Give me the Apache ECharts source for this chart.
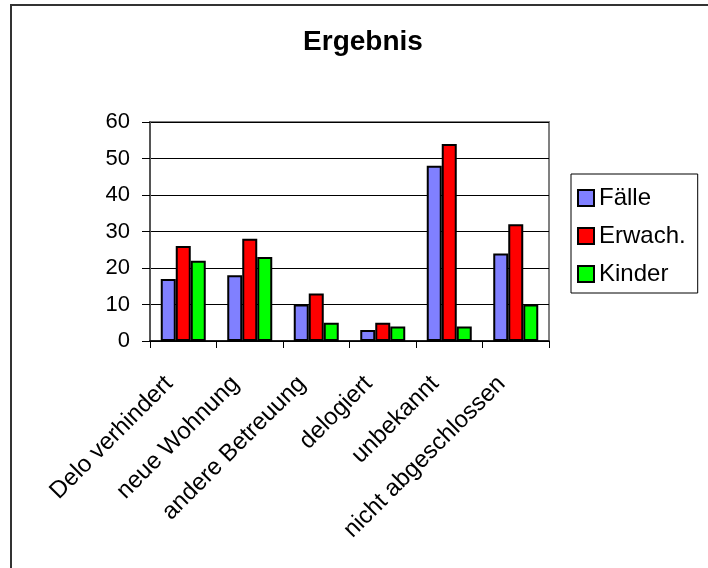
<!DOCTYPE html>
<html>
<head>
<meta charset="utf-8">
<script src="https://cdn.jsdelivr.net/npm/echarts@6/dist/echarts.min.js"></script>
<style>
  html, body { margin: 0; padding: 0; background: #fff; }
  #chart { width: 708px; height: 568px; }
</style>
</head>
<body>
<div id="chart"></div>
<script>
// Outcome categories and counts per group
const categories = ['Delo verhindert', 'neue Wohnung', 'andere Betreuung', 'delogiert', 'unbekannt', 'nicht abgeschlossen'];
const faelle = [17, 18, 10, 3, 48, 24];
const erwachsene = [26, 28, 13, 5, 54, 32];
const kinder = [22, 23, 5, 4, 4, 10];
const seriesNames = ['Fälle', 'Erwach.', 'Kinder'];
const yTicks = { min: 0, max: 60, interval: 10 };

const FONT = '"Liberation Sans", Arial, sans-serif';
const chart = echarts.init(document.getElementById('chart'), null, { renderer: 'canvas' });

function barSeries(name, data, color) {
  return {
    name: name,
    type: 'bar',
    data: data,
    barWidth: 15,
    barGap: '0%',
    itemStyle: { color: color, borderColor: '#000', borderWidth: 2 },
    animation: false
  };
}

chart.setOption({
  animation: false,
  backgroundColor: '#fff',
  textStyle: { fontFamily: FONT },
  title: {
    text: 'Ergebnis',
    left: 358,
    top: 23,
    textAlign: 'center',
    textStyle: { fontFamily: FONT, fontSize: 28, fontWeight: 'bold', color: '#000' }
  },
  graphic: [{
    type: 'rect',
    shape: { x: 11, y: 5, width: 720, height: 590 },
    style: { fill: 'none', stroke: '#333', lineWidth: 2 },
    silent: true,
    z: 100
  }],
  legend: {
    orient: 'vertical',
    left: 571,
    top: 174,
    padding: [12, 12, 7, 6],
    itemWidth: 16,
    itemHeight: 16,
    itemGap: 14,
    borderColor: '#000',
    borderWidth: 1,
    icon: 'rect',
    itemStyle: { borderColor: '#000', borderWidth: 2 },
    textStyle: { fontFamily: FONT, fontSize: 24, lineHeight: 20, color: '#000', padding: [0, 0, 0, 0] },
    data: seriesNames
  },
  grid: {
    left: 150,
    right: 159,
    top: 122,
    bottom: 227,
    show: true,
    borderColor: '#808080',
    borderWidth: 2,
    containLabel: false
  },
  xAxis: {
    type: 'category',
    data: categories,
    axisLine: { lineStyle: { color: '#000', width: 1.5 } },
    axisTick: { show: true, length: 7, lineStyle: { color: '#000', width: 1 } },
    axisLabel: {
      rotate: 45,
      interval: 0,
      margin: 25,
      padding: [0, 20, 0, 0],
      fontFamily: FONT,
      fontSize: 24,
      color: '#000'
    }
  },
  yAxis: {
    type: 'value',
    min: yTicks.min,
    max: yTicks.max,
    interval: yTicks.interval,
    axisLine: { show: true, lineStyle: { color: '#555', width: 2 } },
    axisTick: { show: true, length: 8, lineStyle: { color: '#000', width: 1 } },
    axisLabel: { fontFamily: FONT, fontSize: 22, color: '#000', margin: 20 },
    splitLine: { show: true, lineStyle: { color: '#000', width: 1 } }
  },
  series: [
    barSeries(seriesNames[0], faelle, '#8080FF'),
    barSeries(seriesNames[1], erwachsene, '#FF0000'),
    barSeries(seriesNames[2], kinder, '#00FF00')
  ]
});
</script>
</body>
</html>
